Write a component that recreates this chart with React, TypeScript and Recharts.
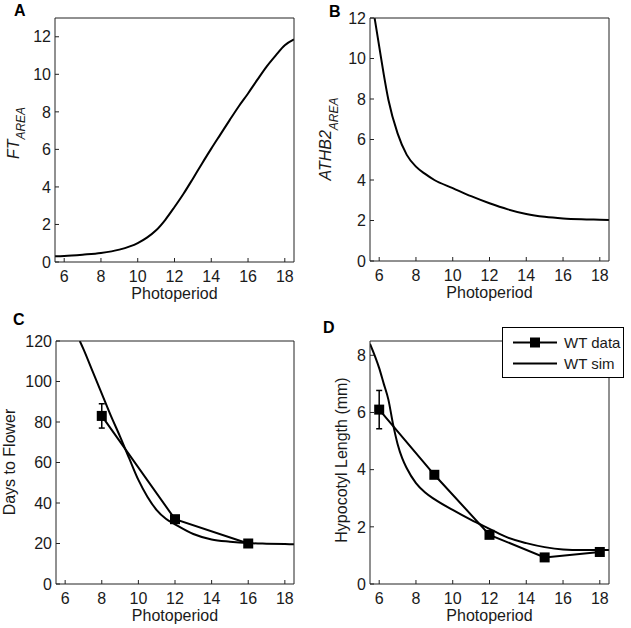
import React from 'react';
import { LineChart, Line, XAxis, YAxis, ErrorBar, Legend } from 'recharts';

const FONT = '"Liberation Sans", Arial, Helvetica, sans-serif';
const INK = '#1a1a1a';

const photoperiodTicks = [6, 8, 10, 12, 14, 16, 18];
const photoperiodDomain = [5.5, 18.5];

// A: FT area (simulation)
const ftX = [5.5, 6, 7, 8, 9, 10, 10.5, 11, 11.5, 12, 12.5, 13, 13.5, 14, 14.5, 15, 15.5, 16, 16.5, 17, 17.5, 18, 18.5];
const ftY = [0.3, 0.32, 0.39, 0.48, 0.66, 1.01, 1.3, 1.69, 2.25, 2.93, 3.65, 4.44, 5.25, 6.04, 6.8, 7.56, 8.3, 8.98, 9.7, 10.4, 11.0, 11.55, 11.86];
const ftTicks = [0, 2, 4, 6, 8, 10, 12];

// B: ATHB2 area (simulation)
const athbX = [5.75, 6, 6.25, 6.5, 7, 7.5, 8, 8.5, 9, 10, 11, 12, 13, 14, 15, 16, 17, 18, 18.5];
const athbY = [12, 10.6, 9.2, 7.96, 6.3, 5.24, 4.66, 4.3, 4.0, 3.6, 3.2, 2.85, 2.55, 2.32, 2.18, 2.1, 2.06, 2.04, 2.03];
const athbTicks = [0, 2, 4, 6, 8, 10, 12];

// C: days to flower
const flowerSimX = [6.8, 7, 7.5, 8, 8.5, 9, 9.5, 10, 10.5, 11, 11.5, 12, 13, 14, 15, 16, 17, 18, 18.5];
const flowerSimY = [120, 116, 105, 94, 83, 72.8, 62, 51.4, 43, 36.5, 32.2, 29.5, 24.7, 22, 20.9, 20.2, 19.9, 19.7, 19.6];
const flowerDataX = [8, 12, 16];
const flowerDataY = [83, 32, 20];
const flowerDataErr = [6, 1.5, 1];
const flowerTicks = [0, 20, 40, 60, 80, 100, 120];

// D: hypocotyl length
const hypoSimX = [5.5, 6, 6.25, 6.5, 6.75, 7, 7.25, 7.5, 8, 8.5, 9, 10, 11, 12, 13, 14, 15, 16, 17, 18, 18.5];
const hypoSimY = [8.4, 7.55, 7.0, 6.45, 5.6, 4.9, 4.4, 4.05, 3.53, 3.2, 2.97, 2.59, 2.24, 1.93, 1.62, 1.43, 1.29, 1.21, 1.19, 1.19, 1.19];
const hypoDataX = [6, 9, 12, 15, 18];
const hypoDataY = [6.1, 3.82, 1.72, 0.93, 1.12];
const hypoDataErr = [0.67, 0.1, 0.1, 0.05, 0.08];
const hypoTicks = [0, 2, 4, 6, 8];

const zip = (xs: number[], ys: number[], errs?: number[]) =>
  xs.map((x, i) => ({ x, y: ys[i], err: errs ? errs[i] : 0 }));

const tickStyle = { fontSize: 16, fill: INK, fontFamily: FONT };

function SquareDot(props: any) {
  const { cx, cy, index } = props;
  if (cx == null || cy == null) return null;
  return <rect key={`sq-${index}`} x={cx - 5} y={cy - 5} width={10} height={10} fill="#000" />;
}

type PanelProps = {
  left: number;
  top: number;
  plotW: number;
  plotH: number;
  yDomain: number[];
  yTicks: number[];
  yLabel: React.ReactNode;
  legend?: boolean;
  children: React.ReactNode;
};

function LegendBox() {
  return (
    <div style={{ width: 122, height: 51, boxSizing: 'border-box', border: '1px solid #000', background: '#fff' }}>
      <svg width={120} height={49} style={{ display: 'block' }}>
        <line x1={10} x2={54} y1={14.5} y2={14.5} stroke="#000" strokeWidth={2} />
        <rect x={27} y={9.5} width={10} height={10} fill="#000" />
        <text x={61} y={20} fontSize={15} fontFamily={FONT} fill={INK}>WT data</text>
        <line x1={10} x2={54} y1={35.5} y2={35.5} stroke="#000" strokeWidth={2} />
        <text x={61} y={41} fontSize={15} fontFamily={FONT} fill={INK}>WT sim</text>
      </svg>
    </div>
  );
}

function Panel({ left, top, plotW, plotH, yDomain, yTicks, yLabel, legend, children }: PanelProps) {
  const width = 55 + plotW + 16;
  const height = 18 + plotH + 46;
  return (
    <div style={{ position: 'absolute', left, top }}>
      <LineChart width={width} height={height} margin={{ top: 17, right: 15, bottom: 0, left: 0 }}>
        <XAxis
          type="number"
          dataKey="x"
          domain={photoperiodDomain}
          ticks={photoperiodTicks}
          interval={0}
          allowDataOverflow
          height={46}
          tickSize={-4}
          tickMargin={13}
          tick={tickStyle}
          stroke="#222"
          label={{
            content: () => (
              <text x={55 + plotW / 2} y={18 + plotH + 37} textAnchor="middle" fontSize={16} fontFamily={FONT} fill={INK}>
                Photoperiod
              </text>
            ),
          }}
        />
        <XAxis
          xAxisId="top"
          orientation="top"
          type="number"
          domain={photoperiodDomain}
          ticks={photoperiodTicks}
          interval={0}
          allowDataOverflow
          height={1}
          tickSize={-4}
          tick={false}
          stroke="#222"
        />
        <YAxis
          type="number"
          domain={yDomain}
          ticks={yTicks}
          interval={0}
          allowDataOverflow
          width={55}
          tickSize={-4}
          tickMargin={8}
          tick={tickStyle}
          stroke="#222"
          label={{ content: () => yLabel }}
        />
        <YAxis
          yAxisId="right"
          orientation="right"
          type="number"
          domain={yDomain}
          ticks={yTicks}
          interval={0}
          allowDataOverflow
          width={1}
          tickSize={-4}
          tick={false}
          stroke="#222"
        />
        {children}
        {legend && (
          <Legend
            layout="vertical"
            align="center"
            verticalAlign="middle"
            wrapperStyle={{ left: 187, top: 4, width: 122, height: 51 }}
            content={() => <LegendBox />}
          />
        )}
      </LineChart>
    </div>
  );
}

function RotLabel({ x, y, children }: { x: number; y: number; children: React.ReactNode }) {
  return (
    <text transform={`translate(${x},${y}) rotate(-90)`} x={0} y={0} textAnchor="middle" fontSize={16} fontFamily={FONT} fill={INK}>
      {children}
    </text>
  );
}

export default function App() {
  const ftData = zip(ftX, ftY);
  const athbData = zip(athbX, athbY);
  const flowerSim = zip(flowerSimX, flowerSimY);
  const flowerData = zip(flowerDataX, flowerDataY, flowerDataErr);
  const hypoSim = zip(hypoSimX, hypoSimY);
  const hypoData = zip(hypoDataX, hypoDataY, hypoDataErr);

  return (
    <div style={{ position: 'absolute', left: 0, top: 0, width: 631, height: 628, overflow: 'hidden', background: '#fff' }}>
      <Panel
        left={0}
        top={0}
        plotW={239}
        plotH={244}
        yDomain={[0, 13]}
        yTicks={ftTicks}
        yLabel={
          <RotLabel x={18.5} y={133}>
            <tspan fontStyle="italic">FT</tspan>
            <tspan fontStyle="italic" fontSize={12} dy={6.5}>AREA</tspan>
          </RotLabel>
        }
      >
        <Line data={ftData} dataKey="y" type="monotone" stroke="#000" strokeWidth={2} dot={false} isAnimationActive={false} />
      </Panel>

      <Panel
        left={315}
        top={0}
        plotW={239}
        plotH={243}
        yDomain={[0, 12]}
        yTicks={athbTicks}
        yLabel={
          <RotLabel x={16} y={139}>
            <tspan fontStyle="italic">ATHB2</tspan>
            <tspan fontStyle="italic" fontSize={12} dy={7}>AREA</tspan>
          </RotLabel>
        }
      >
        <Line data={athbData} dataKey="y" type="monotone" stroke="#000" strokeWidth={2} dot={false} isAnimationActive={false} />
      </Panel>

      <Panel
        left={1}
        top={323}
        plotW={238}
        plotH={243}
        yDomain={[0, 120]}
        yTicks={flowerTicks}
        yLabel={<RotLabel x={13.5} y={139}>Days to Flower</RotLabel>}
      >
        <Line data={flowerSim} dataKey="y" type="monotone" stroke="#000" strokeWidth={2} dot={false} isAnimationActive={false} />
        <Line data={flowerData} dataKey="y" type="linear" stroke="#000" strokeWidth={2} dot={<SquareDot />} isAnimationActive={false}>
          <ErrorBar dataKey="err" direction="y" width={3} stroke="#000" strokeWidth={1.5} isAnimationActive={false} />
        </Line>
      </Panel>

      <Panel
        left={315}
        top={323}
        plotW={239}
        plotH={243}
        yDomain={[0, 8.5]}
        yTicks={hypoTicks}
        legend
        yLabel={<RotLabel x={31.5} y={137}>Hypocotyl Length (mm)</RotLabel>}
      >
        <Line data={hypoSim} dataKey="y" type="monotone" stroke="#000" strokeWidth={2} dot={false} isAnimationActive={false} />
        <Line data={hypoData} dataKey="y" type="linear" stroke="#000" strokeWidth={2} dot={<SquareDot />} isAnimationActive={false}>
          <ErrorBar dataKey="err" direction="y" width={3} stroke="#000" strokeWidth={1.5} isAnimationActive={false} />
        </Line>
      </Panel>

      <svg width={631} height={628} style={{ position: 'absolute', left: 0, top: 0, pointerEvents: 'none' }}>
        <g fontFamily={FONT} fontWeight="bold" fontSize={16} fill="#000">
          <text x={14} y={16}>A</text>
          <text x={329} y={17}>B</text>
          <text x={13} y={325}>C</text>
          <text x={323} y={333}>D</text>
        </g>
      </svg>
    </div>
  );
}
